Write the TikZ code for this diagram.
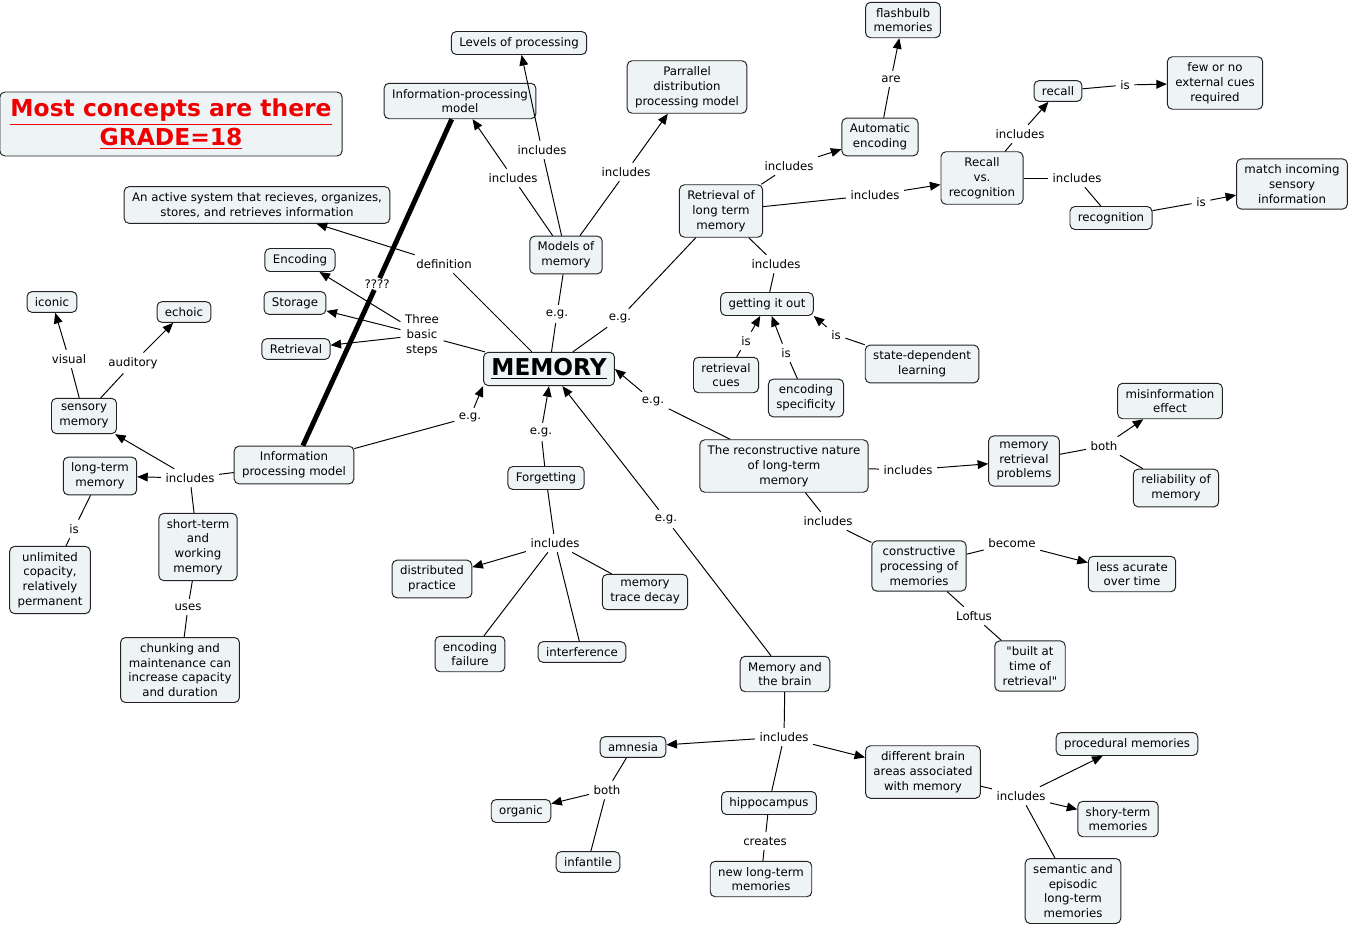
\documentclass[tikz,border=0pt]{standalone}
\usepackage{fontspec}
\setmainfont{DejaVu Sans}
\newfontfamily\plainquote{DejaVu Sans}
\usetikzlibrary{arrows.meta}
\definecolor{boxfill}{RGB}{238,243,246}
\definecolor{boxline}{RGB}{35,35,35}
\definecolor{gradered}{RGB}{238,0,0}
\newcommand{\mapfont}{\fontsize{6.7}{8.4}\selectfont}

\begin{document}
\begin{tikzpicture}[x=0.02cm, y=-0.02cm, line width=0.55pt, >={Triangle[length=6pt,width=5pt]},
    concept/.style={draw=boxline, fill=boxfill, rounded corners=2.8pt, align=center, inner xsep=4.5pt, inner ysep=3.3pt, font=\mapfont},
    link/.style={align=center, inner sep=2.4pt, font=\mapfont}]
    \useasboundingbox (0,0) rectangle (1351,930);

    % grade
    \node [concept, name=grade, text=gradered, inner xsep=6pt, minimum width=6.78cm, minimum height=1.28cm, font=\fontsize{13.3}{16.4}\selectfont\bfseries] at (171,124) {\underline{Most concepts are there}\\\underline{GRADE=18}};

    % centre
    \node [concept, name=memory, font=\fontsize{13.2}{15}\selectfont\bfseries, inner ysep=1.5pt, minimum height=19pt] at (549,369) {\underline{MEMORY}};

    % definition and three basic steps
    \node [concept, name=active] at (257,205) {An active system that recieves, organizes,\\stores, and retrieves information};
    \node [link, name=lDef] at (444,264) {definition};
    \draw (memory) -- (lDef);
    \draw [->] (lDef) -- (active);
    \node [concept, name=encoding] at (300,260) {Encoding};
    \node [concept, name=storage] at (295,303) {Storage};
    \node [concept, name=retrieval] at (296,349) {Retrieval};
    \node [link, name=lSteps] at (422,335) {Three\\basic\\steps};
    \draw (memory) -- (lSteps);
    \draw [->] (lSteps) -- (encoding);
    \draw [->] (lSteps) -- (storage);
    \draw [->] (lSteps) -- (retrieval);

    % models of memory
    \node [concept, name=models] at (566,255) {Models of\\memory};
    \node [concept, name=infomodel] at (460,101) {Information-processing\\model};
    \node [concept, name=levels] at (519,43) {Levels of processing};
    \node [concept, name=parallel] at (687,87) {Parrallel\\distribution\\processing model};
    \node [link, name=lEgModels] at (557,314) {e.g.};
    \node [link, name=lIncLevels] at (542,150) {includes};
    \node [link, name=lIncInfo] at (513,178) {includes};
    \node [link, name=lIncParallel] at (626,172) {includes};
    \draw (memory) -- (lEgModels);
    \draw (lEgModels) -- (models);
    \draw (models) -- (lIncLevels);
    \draw [->] (lIncLevels) -- (levels);
    \draw (models) -- (lIncInfo);
    \draw [->] (lIncInfo) -- (infomodel);
    \draw (models) -- (lIncParallel);
    \draw [->] (lIncParallel) -- (parallel);

    % retrieval of long term memory
    \node [concept, name=retltm] at (721,211) {Retrieval of\\long term\\memory};
    \node [concept, name=autoenc] at (880,137) {Automatic\\encoding};
    \node [concept, name=flashbulb] at (903,20) {flashbulb\\memories};
    \node [concept, name=recallvs] at (982,178) {Recall\\vs.\\recognition};
    \node [concept, name=recall] at (1058,91) {recall};
    \node [concept, name=fewcues] at (1215,83) {few or no\\external cues\\required};
    \node [concept, name=recognition] at (1111,218) {recognition};
    \node [concept, name=match] at (1292,184) {match incoming\\sensory\\information};
    \node [link, name=lEgRet] at (620,318) {e.g.};
    \node [link, name=lIncAuto] at (789,166) {includes};
    \node [link, name=lAre] at (891,79) {are};
    \node [link, name=lIncRvr] at (875,195) {includes};
    \node [link, name=lIncRecall] at (1020,134) {includes};
    \node [link, name=lIsFew] at (1125,85) {is};
    \node [link, name=lIncRecog] at (1077,178) {includes};
    \node [link, name=lIsMatch] at (1201,202) {is};
    \draw (memory) -- (lEgRet);
    \draw (lEgRet) -- (retltm);
    \draw (retltm) -- (lIncAuto);
    \draw [->] (lIncAuto) -- (autoenc);
    \draw (autoenc) -- (lAre);
    \draw [->] (lAre) -- (flashbulb);
    \draw (retltm) -- (lIncRvr);
    \draw [->] (lIncRvr) -- (recallvs);
    \draw (recallvs) -- (lIncRecall);
    \draw [->] (lIncRecall) -- (recall);
    \draw (recall) -- (lIsFew);
    \draw [->] (lIsFew) -- (fewcues);
    \draw (recallvs) -- (lIncRecog);
    \draw (lIncRecog) -- (recognition);
    \draw (recognition) -- (lIsMatch);
    \draw [->] (lIsMatch) -- (match);

    % getting it out
    \node [concept, name=getting] at (767,304) {getting it out};
    \node [concept, name=retcues] at (726,375) {retrieval\\cues};
    \node [concept, name=encspec] at (806,398) {encoding\\specificity};
    \node [concept, name=statedep] at (922,364) {state-dependent\\learning};
    \node [link, name=lIncGet] at (776,264) {includes};
    \node [link, name=lIsCues] at (746,341) {is};
    \node [link, name=lIsSpec] at (786,353) {is};
    \node [link, name=lIsState] at (836,335) {is};
    \draw (retltm) -- (lIncGet);
    \draw (lIncGet) -- (getting);
    \draw (retcues) -- (lIsCues);
    \draw [->] (lIsCues) -- (getting);
    \draw (encspec) -- (lIsSpec);
    \draw [->] (lIsSpec) -- (getting);
    \draw (statedep) -- (lIsState);
    \draw [->] (lIsState) -- (getting.south east);

    % reconstructive nature
    \node [concept, name=recon] at (784,466) {The reconstructive nature\\of long-term\\memory};
    \node [concept, name=retprobs] at (1024,461) {memory\\retrieval\\problems};
    \node [concept, name=misinfo] at (1170,401) {misinformation\\effect};
    \node [concept, name=reliab] at (1176,488) {reliability of\\memory};
    \node [concept, name=constr] at (919,566) {constructive\\processing of\\memories};
    \node [concept, name=lessacc] at (1132,574) {less acurate\\over time};
    \node [concept, name=builtat] at (1030,666) {{\plainquote"}built at\\time of\\retrieval{\plainquote"}};
    \node [link, name=lEgRecon] at (653,401) {e.g.};
    \node [link, name=lIncProbs] at (908,470) {includes};
    \node [link, name=lBothMis] at (1104,446) {both};
    \node [link, name=lIncConstr] at (828,521) {includes};
    \node [link, name=lBecome] at (1012,543) {become};
    \node [link, name=lLoftus] at (974,616) {Loftus};
    \draw (recon) -- (lEgRecon);
    \draw [->] (lEgRecon) -- (memory.east);
    \draw (recon) -- (lIncProbs);
    \draw [->] (lIncProbs) -- (retprobs);
    \draw (retprobs) -- (lBothMis);
    \draw [->] (lBothMis) -- (misinfo);
    \draw (lBothMis) -- (reliab);
    \draw (recon) -- (lIncConstr);
    \draw (lIncConstr) -- (constr);
    \draw (constr) -- (lBecome);
    \draw [->] (lBecome) -- (lessacc);
    \draw (constr) -- (lLoftus);
    \draw (lLoftus) -- (builtat);

    % memory and the brain
    \node [concept, name=brain] at (785,674) {Memory and\\the brain};
    \node [concept, name=amnesia] at (633,747) {amnesia};
    \node [concept, name=organic] at (521,811) {organic};
    \node [concept, name=infantile] at (588,862) {infantile};
    \node [concept, name=hippo] at (769,803) {hippocampus};
    \node [concept, name=newltm] at (761,879) {new long-term\\memories};
    \node [concept, name=areas] at (923,772) {different brain\\areas associated\\with memory};
    \node [concept, name=procedural] at (1127,744) {procedural memories};
    \node [concept, name=shorty] at (1118,819) {shory-term\\memories};
    \node [concept, name=semantic] at (1073,891) {semantic and\\episodic\\long-term\\memories};
    \node [link, name=lEgBrain] at (666,519) {e.g.};
    \node [link, name=lIncBrain] at (784,737) {includes};
    \node [link, name=lBothAmn] at (607,790) {both};
    \node [link, name=lCreates] at (765,841) {creates};
    \node [link, name=lIncAreas] at (1021,796) {includes};
    \draw (brain) -- (lEgBrain);
    \draw [->] (lEgBrain) -- (memory);
    \draw (brain) -- (lIncBrain);
    \draw [->] (lIncBrain) -- (amnesia);
    \draw [->] (lIncBrain) -- (areas);
    \draw (lIncBrain) -- (hippo);
    \draw (amnesia) -- (lBothAmn);
    \draw [->] (lBothAmn) -- (organic);
    \draw (lBothAmn) -- (infantile);
    \draw (hippo) -- (lCreates);
    \draw (lCreates) -- (newltm);
    \draw (areas) -- (lIncAreas);
    \draw [->] (lIncAreas) -- (procedural);
    \draw [->] (lIncAreas) -- (shorty);
    \draw (lIncAreas) -- (semantic);

    % forgetting
    \node [concept, name=forgetting] at (546,478) {Forgetting};
    \node [concept, name=distprac] at (432,579) {distributed\\practice};
    \node [concept, name=encfail] at (470,654) {encoding\\failure};
    \node [concept, name=interf] at (582,652) {interference};
    \node [concept, name=decay] at (645,592) {memory\\trace decay};
    \node [link, name=lEgForget] at (541,432) {e.g.};
    \node [link, name=lIncForget] at (555,543) {includes};
    \draw (forgetting) -- (lEgForget);
    \draw [->] (lEgForget) -- (memory.south);
    \draw (forgetting) -- (lIncForget);
    \draw [->] (lIncForget) -- (distprac);
    \draw (lIncForget) -- (encfail);
    \draw (lIncForget) -- (interf);
    \draw (lIncForget) -- (decay);

    % information processing model
    \node [concept, name=infoproc] at (294,465) {Information\\processing model};
    \node [concept, name=sensory] at (84,416) {sensory\\memory};
    \node [concept, name=iconic] at (52,302) {iconic};
    \node [concept, name=echoic] at (184,312) {echoic};
    \node [concept, name=ltm] at (100,476) {long-term\\memory};
    \node [concept, name=unlimited] at (50,580) {unlimited\\copacity,\\relatively\\permanent};
    \node [concept, name=stwm] at (198,547) {short-term\\and\\working\\memory};
    \node [concept, name=chunking] at (180,670) {chunking and\\maintenance can\\increase capacity\\and duration};
    \node [link, name=lEgInfo] at (470,417) {e.g.};
    \node [link, name=lIncInfo2] at (190,478) {includes};
    \node [link, name=lVisual] at (69,359) {visual};
    \node [link, name=lAuditory] at (133,363) {auditory};
    \node [link, name=lIsLtm] at (74,529) {is};
    \node [link, name=lUses] at (188,607) {uses};
    \draw (infoproc) -- (lEgInfo);
    \draw [->] (lEgInfo) -- (memory.south west);
    \draw (infoproc) -- (lIncInfo2);
    \draw [->] (lIncInfo2) -- (ltm);
    \draw [->] (lIncInfo2) -- (sensory);
    \draw (lIncInfo2) -- (stwm);
    \draw (sensory) -- (lVisual);
    \draw [->] (lVisual) -- (iconic);
    \draw (sensory) -- (lAuditory);
    \draw [->] (lAuditory) -- (echoic);
    \draw (ltm) -- (lIsLtm);
    \draw (lIsLtm) -- (unlimited);
    \draw (stwm) -- (lUses);
    \draw (lUses) -- (chunking);

    % ????
    \node [link, name=lQuery, inner sep=0.6pt] at (377,284) {????};
    \draw [line width=2.8pt] (infomodel) -- (lQuery);
    \draw [line width=2.8pt] (lQuery) -- (infoproc);
\end{tikzpicture}
\end{document}
